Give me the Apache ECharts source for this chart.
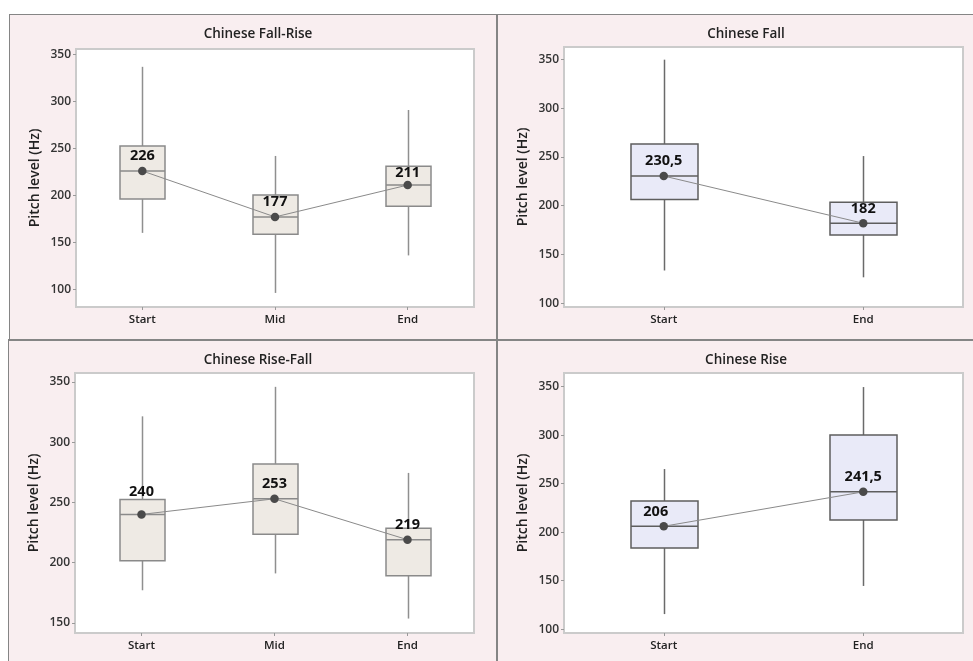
<!DOCTYPE html>
<html lang="en">
<head>
  <meta charset="UTF-8">
  <title>Chinese pitch level boxplots</title>
  <script src="https://cdn.jsdelivr.net/npm/echarts@6/dist/echarts.min.js"></script>
  <style>
    * { margin: 0; padding: 0; box-sizing: border-box; }
    body { background: #fff; }
    #chart { width: 973px; height: 661px; }
  </style>
</head>
<body>
  <div id="chart"></div>
  <script>
    // box data: [min, Q1, median, Q3, max]
    const fallRiseCats = ['Start', 'Mid', 'End'];
    const fallRiseBoxes = [
      [160, 196, 226, 252.5, 337],
      [96, 158.5, 177, 200.5, 242],
      [136, 188.5, 211, 231, 291]
    ];
    const fallRiseMedians = [226, 177, 211];

    const fallCats = ['Start', 'End'];
    const fallBoxes = [
      [133.5, 206.5, 230.5, 263.5, 350],
      [126.5, 170, 182, 203.5, 251]
    ];
    const fallMedians = [230.5, 182];

    const riseFallCats = ['Start', 'Mid', 'End'];
    const riseFallBoxes = [
      [177, 201.5, 240, 252.5, 321.5],
      [191, 223.5, 253, 282, 346],
      [153.5, 189, 219, 228.5, 274.5]
    ];
    const riseFallMedians = [240, 253, 219];

    const riseCats = ['Start', 'End'];
    const riseBoxes = [
      [115.5, 183.5, 206, 232, 265],
      [144.5, 212.5, 241.5, 300, 349.5]
    ];
    const riseMedians = [206, 241.5];

    const ticks100 = [100, 150, 200, 250, 300, 350];
    const ticks150 = [150, 200, 250, 300, 350];

    const FONT = '"Open Sans", "Noto Sans", sans-serif';
    const PINK = '#f9eef0';
    const FRAME = '#858585';

    // panels: grid rect, y range, colours
    const panels = [
      { title: 'Chinese Fall-Rise', tx: 253, ty: 32, cats: fallRiseCats, boxes: fallRiseBoxes, meds: fallRiseMedians,
        grid: { left: 76, top: 49, width: 398, height: 258 }, min: 81, max: 356, ticks: ticks100,
        fill: '#eeeae4', border: '#8a8a8a', whisker: '#8f8f8f', boxW: 45 },
      { title: 'Chinese Fall', tx: 741, ty: 32, cats: fallCats, boxes: fallBoxes, meds: fallMedians,
        grid: { left: 564, top: 47, width: 399, height: 260 }, min: 96, max: 363, ticks: ticks100,
        fill: '#e9eaf8', border: '#5e5e5e', whisker: '#6a6a6a', boxW: 67 },
      { title: 'Chinese Rise-Fall', tx: 253, ty: 358, cats: riseFallCats, boxes: riseFallBoxes, meds: riseFallMedians,
        grid: { left: 75, top: 373, width: 399, height: 260 }, min: 141.5, max: 357.5, ticks: ticks150,
        fill: '#eeeae4', border: '#8a8a8a', whisker: '#8f8f8f', boxW: 45 },
      { title: 'Chinese Rise', tx: 741, ty: 358, cats: riseCats, boxes: riseBoxes, meds: riseMedians,
        grid: { left: 564, top: 373, width: 399, height: 260 }, min: 96, max: 364, ticks: ticks100,
        fill: '#e9eaf8', border: '#5e5e5e', whisker: '#6a6a6a', boxW: 67 }
    ];

    // a few labels sit a little off the default spot
    const labelOffsets = { '2-0': [0, -8], '3-0': [-8, 0], '0-2': [0, 3] };

    const chart = echarts.init(document.getElementById('chart'));

    // boxplot without whisker caps (minitab style)
    function boxRenderer(p) {
      return function (params, api) {
        const x = api.value(0);
        const pMin = api.coord([x, api.value(1)]);
        const pQ1 = api.coord([x, api.value(2)]);
        const pMed = api.coord([x, api.value(3)]);
        const pQ3 = api.coord([x, api.value(4)]);
        const pMax = api.coord([x, api.value(5)]);
        const cx = Math.round(pMed[0]) + 0.5;
        const hw = p.boxW / 2;
        const wStyle = { stroke: p.whisker, lineWidth: 1.5 };
        return {
          type: 'group',
          children: [
            { type: 'line', shape: { x1: cx, y1: pMax[1], x2: cx, y2: pQ3[1] }, style: wStyle },
            { type: 'line', shape: { x1: cx, y1: pQ1[1], x2: cx, y2: pMin[1] }, style: wStyle },
            { type: 'rect', shape: { x: cx - hw, y: pQ3[1], width: p.boxW, height: pQ1[1] - pQ3[1] },
              style: { fill: p.fill, stroke: p.border, lineWidth: 1.5 } },
            { type: 'line', shape: { x1: cx - hw, y1: pMed[1], x2: cx + hw, y2: pMed[1] },
              style: { stroke: p.border, lineWidth: 1.5 } }
          ]
        };
      };
    }

    const option = {
      animation: false,
      backgroundColor: '#fff',
      title: panels.map(p => ({
        text: p.title,
        left: p.tx,
        top: p.ty - 10,
        textAlign: 'center',
        textStyle: { fontFamily: FONT, fontSize: 13.5, fontWeight: 600, color: '#222' }
      })),
      graphic: [
        { type: 'rect', shape: { x: 9, y: 14, width: 964, height: 647 }, style: { fill: PINK }, z: -10 },
        { type: 'line', shape: { x1: 9, y1: 14.5, x2: 973, y2: 14.5 }, style: { stroke: FRAME, lineWidth: 1 }, z: -5 },
        { type: 'line', shape: { x1: 9.5, y1: 14, x2: 9.5, y2: 340 }, style: { stroke: FRAME, lineWidth: 1 }, z: -5 },
        { type: 'line', shape: { x1: 8.5, y1: 340, x2: 8.5, y2: 661 }, style: { stroke: FRAME, lineWidth: 1 }, z: -5 },
        { type: 'line', shape: { x1: 497, y1: 14, x2: 497, y2: 661 }, style: { stroke: FRAME, lineWidth: 2 }, z: -5 },
        { type: 'line', shape: { x1: 8, y1: 340, x2: 973, y2: 340 }, style: { stroke: FRAME, lineWidth: 2 }, z: -5 }
      ],
      grid: panels.map(p => Object.assign({
        show: true,
        backgroundColor: '#fff',
        borderColor: '#cbcbcb',
        borderWidth: 2
      }, p.grid)),
      xAxis: panels.map((p, i) => ({
        type: 'category',
        gridIndex: i,
        data: p.cats,
        axisLine: { show: false },
        axisTick: { show: true, alignWithLabel: true, length: 3, lineStyle: { color: '#999' } },
        axisLabel: { fontFamily: FONT, fontSize: 11.5, fontWeight: 600, color: '#222', margin: 7 },
        splitLine: { show: false }
      })),
      yAxis: panels.map((p, i) => ({
        type: 'value',
        gridIndex: i,
        min: p.min,
        max: p.max,
        name: 'Pitch level (Hz)',
        nameLocation: 'middle',
        nameRotate: 90,
        nameGap: 34,
        nameTextStyle: { fontFamily: FONT, fontSize: 14, fontWeight: 600, color: '#222' },
        axisLine: { show: false },
        axisTick: { show: true, length: 3, lineStyle: { color: '#999' }, customValues: p.ticks },
        axisLabel: { fontFamily: FONT, fontSize: 12, fontWeight: 600, color: '#333', margin: 5, customValues: p.ticks },
        splitLine: { show: false }
      })),
      series: []
    };

    panels.forEach((p, i) => {
      option.series.push({
        type: 'custom',
        xAxisIndex: i,
        yAxisIndex: i,
        data: p.boxes.map((b, j) => [j].concat(b)),
        encode: { x: 0, y: [1, 2, 3, 4, 5] },
        renderItem: boxRenderer(p),
        silent: true,
        z: 2
      });
      option.series.push({
        type: 'line',
        xAxisIndex: i,
        yAxisIndex: i,
        data: p.meds.map((v, j) => {
          const off = labelOffsets[i + '-' + j];
          return off ? { value: v, label: { offset: off } } : v;
        }),
        symbol: 'circle',
        symbolSize: 8.5,
        itemStyle: { color: '#4a4a4a' },
        lineStyle: { color: '#8a8a8a', width: 1 },
        label: {
          show: true,
          position: 'top',
          distance: 3,
          formatter: d => String(d.value).replace('.', ','),
          fontFamily: FONT, fontSize: 14.5, fontWeight: 700, color: '#111'
        },
        z: 5
      });
    });

    chart.setOption(option);
  </script>
</body>
</html>
